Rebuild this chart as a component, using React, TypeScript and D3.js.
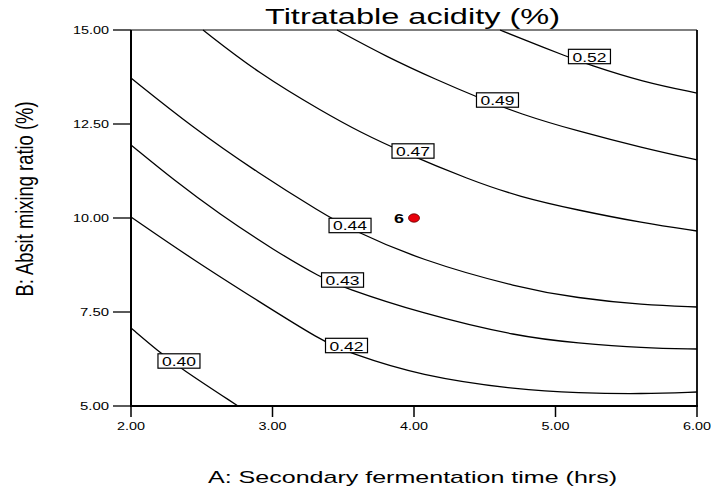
import React from "react";
import * as d3 from "d3";

// ---- data ----
const xTicks = [2, 3, 4, 5, 6];
const yTicks = [5, 7.5, 10, 12.5, 15];

const levels = ["0.40", "0.42", "0.43", "0.44", "0.47", "0.49", "0.52"];

const contour040: [number, number][] = [
  [2.0, 7.074], [2.191, 6.463], [2.346, 6.011], [2.756, 5.0],
];
const contour042: [number, number][] = [
  [2.0, 10.027], [2.431, 8.91], [2.898, 7.793], [3.35, 6.729], [3.527, 6.436],
  [4.042, 5.798], [4.749, 5.426], [5.152, 5.346], [5.618, 5.319], [6.0, 5.372],
];
const contour043: [number, number][] = [
  [2.0, 11.941], [2.311, 10.984], [2.615, 10.133], [3.018, 9.122], [3.35, 8.404],
  [3.491, 8.165], [4.042, 7.473], [4.749, 6.835], [5.152, 6.676], [5.618, 6.543], [6.0, 6.516],
];
const contour044: [number, number][] = [
  [2.0, 13.723], [2.431, 12.42], [2.898, 11.197], [3.35, 10.133], [3.548, 9.707],
  [4.042, 8.883], [4.749, 8.138], [5.152, 7.872], [5.618, 7.686], [6.0, 7.633],
];
const contour047: [number, number][] = [
  [2.509, 15.0], [2.898, 13.856], [3.371, 12.793], [3.618, 12.287], [3.901, 11.782],
  [4.396, 11.011], [4.749, 10.559], [5.152, 10.213], [5.618, 9.867], [6.0, 9.654],
];
const contour049: [number, number][] = [
  [3.456, 15.0], [3.809, 14.282], [4.163, 13.67], [4.445, 13.218], [4.749, 12.766],
  [5.152, 12.314], [5.618, 11.862], [6.0, 11.543],
];
const contour052: [number, number][] = [
  [4.608, 15.0], [4.749, 14.787], [5.088, 14.282], [5.223, 14.096], [5.618, 13.617], [6.0, 13.324],
];

const contours = [contour040, contour042, contour043, contour044, contour047, contour049, contour052];

// label positions (A, B) for each level
const labelA = [2.339, 3.523, 3.495, 3.548, 3.993, 4.59, 5.24];
const labelB = [6.197, 6.609, 8.351, 9.801, 11.782, 13.138, 14.295];

const designPointA = [4.0];
const designPointB = [10.0];
const designPointLabel = ["6"];

const title = "Titratable acidity (%)";
const xLabel = "A: Secondary fermentation time (hrs)";
const yLabel = "B: Absit mixing ratio (%)";

const FONT = "'Liberation Sans', Arial, Helvetica, sans-serif";

export default function App() {
  const W = 711, H = 488;
  const x = d3.scaleLinear().domain([2, 6]).range([131, 697]);
  const y = d3.scaleLinear().domain([5, 15]).range([406, 30]);
  const fmt = d3.format(".2f");
  const line = d3
    .line<[number, number]>()
    .x((d) => x(d[0]))
    .y((d) => y(d[1]))
    .curve(d3.curveBasis);

  return (
    <svg
      width={W}
      height={H}
      style={{ position: "absolute", left: 0, top: 0, background: "#fff" }}
      fontFamily={FONT}
    >
      <rect x={0} y={0} width={W} height={H} fill="#fff" />
      {/* title */}
      <text
        x={412.5}
        y={24}
        fontSize={22}
        textAnchor="middle"
        textLength={295}
        lengthAdjust="spacingAndGlyphs"
        fill="#000"
      >
        {title}
      </text>

      {/* contour lines */}
      <g fill="none" stroke="#000" strokeWidth={1.3}>
        {contours.map((c, i) => (
          <path key={i} d={line(c) || ""} />
        ))}
      </g>

      {/* frame */}
      <line x1={131} x2={697} y1={30} y2={30} stroke="#000" strokeWidth={1.2} />
      <line x1={697} x2={697} y1={30} y2={406} stroke="#000" strokeWidth={1.8} />
      <line x1={131} x2={131} y1={30} y2={407} stroke="#000" strokeWidth={2} />
      <line x1={130} x2={698} y1={406} y2={406} stroke="#000" strokeWidth={2} />

      {/* y ticks */}
      {yTicks.map((t) => (
        <g key={"y" + t}>
          <line x1={113} x2={131} y1={y(t)} y2={y(t)} stroke="#000" strokeWidth={1.3} />
          <text
            x={109}
            y={y(t) + 4}
            fontSize={11}
            textAnchor="end"
            textLength={t >= 10 ? 36 : 29}
            lengthAdjust="spacingAndGlyphs"
          >
            {fmt(t)}
          </text>
        </g>
      ))}

      {/* x ticks */}
      {xTicks.map((t) => (
        <g key={"x" + t}>
          <line x1={x(t)} x2={x(t)} y1={406} y2={417} stroke="#000" strokeWidth={1.5} />
          <text
            x={x(t)}
            y={430}
            fontSize={11}
            textAnchor="middle"
            textLength={28}
            lengthAdjust="spacingAndGlyphs"
          >
            {fmt(t)}
          </text>
        </g>
      ))}

      {/* contour labels */}
      {levels.map((lv, i) => {
        const cx = x(labelA[i]);
        const cy = y(labelB[i]);
        return (
          <g key={"l" + lv}>
            <rect
              x={cx - 21}
              y={cy - 7.2}
              width={42}
              height={14.4}
              fill="#fff"
              stroke="#000"
              strokeWidth={1.2}
            />
            <text
              x={cx}
              y={cy + 5}
              fontSize={12.5}
              textAnchor="middle"
              textLength={34}
              lengthAdjust="spacingAndGlyphs"
            >
              {lv}
            </text>
          </g>
        );
      })}

      {/* design point */}
      {designPointA.map((a, i) => (
        <g key={"p" + i}>
          <text
            x={x(a) - 15}
            y={y(designPointB[i]) + 4.5}
            fontSize={12.5}
            fontWeight="bold"
            textAnchor="middle"
            textLength={10}
            lengthAdjust="spacingAndGlyphs"
          >
            {designPointLabel[i]}
          </text>
          <ellipse
            cx={x(a)}
            cy={y(designPointB[i])}
            rx={5.5}
            ry={4.2}
            fill="#e8000b"
            stroke="#600"
            strokeWidth={0.8}
          />
        </g>
      ))}

      {/* axis titles */}
      <text
        x={412.5}
        y={483}
        fontSize={17}
        textAnchor="middle"
        textLength={409}
        lengthAdjust="spacingAndGlyphs"
      >
        {xLabel}
      </text>
      <text
        transform="translate(33,199) scale(1.35,1) rotate(-90)"
        x={0}
        y={0}
        fontSize={17.5}
        textAnchor="middle"
        textLength={195}
        lengthAdjust="spacingAndGlyphs"
      >
        {yLabel}
      </text>
    </svg>
  );
}
